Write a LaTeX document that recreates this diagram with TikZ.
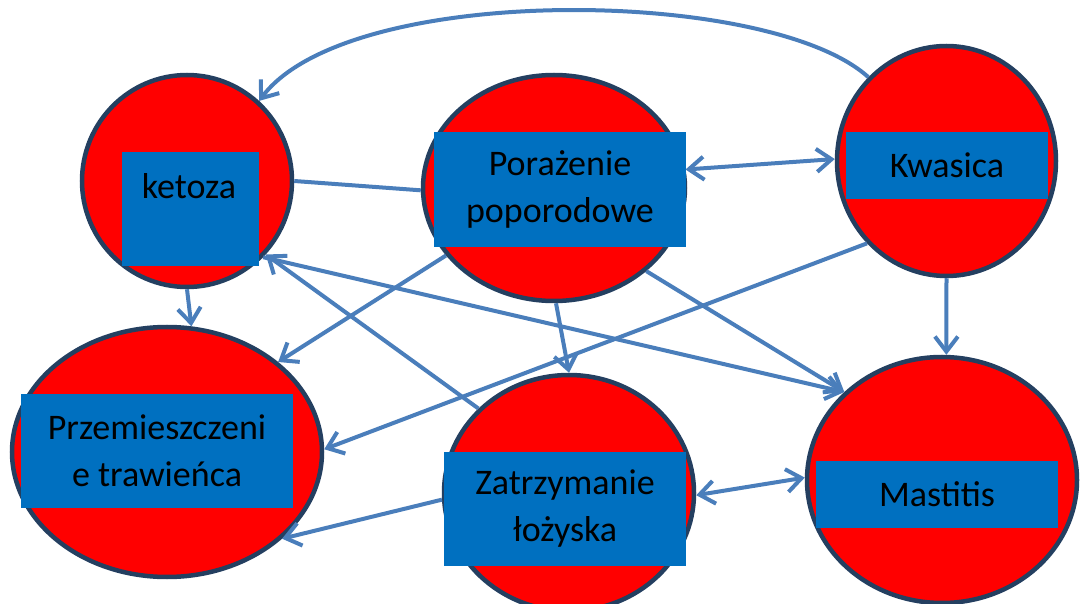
\documentclass[tikz,border=0pt]{standalone}
\usepackage{fontspec}
\setmainfont{Carlito}
\usetikzlibrary{arrows.meta,shapes.geometric}
\definecolor{lineblue}{HTML}{4A7EBB}
\definecolor{circedge}{HTML}{243F60}
\definecolor{boxblue}{HTML}{0070C0}
\begin{document}
\begin{tikzpicture}[x=1pt,y=-1pt,
  blob/.style={ellipse, draw=circedge, line width=4.5pt, fill=red, inner sep=0pt},
  box/.style={rectangle, fill=boxblue, inner sep=0pt, align=center, text=black,
    font=\fontsize{36}{47}\selectfont},
  lbl/.style={inner sep=0pt, text=black, font=\fontsize{36}{47}\selectfont},
  link/.style={draw=lineblue, line width=4pt},
  conn/.style={link, -{Straight Barb[length=15pt,width=23pt]}},
  conntwo/.style={link, {Straight Barb[length=15pt,width=23pt]}-{Straight Barb[length=15pt,width=23pt]}}
]
\clip (0,0) rectangle (1080,604);
% ellipses
\node[blob, minimum width=210pt, minimum height=212pt] (ket) at (187,181) {};
\node[blob, minimum width=262pt, minimum height=226pt] (por) at (554,188) {};
\node[blob, minimum width=219pt, minimum height=230pt] (kwa) at (946.5,161) {};
\node[blob, minimum width=310pt, minimum height=250pt] (prz) at (167,452) {};
\node[blob, minimum width=250pt, minimum height=236pt] (zat) at (569,493) {};
\node[blob, minimum width=270pt, minimum height=246pt] (mas) at (942,480) {};
% boxes
\node[box, minimum width=137pt, minimum height=114pt] (ketbox) at (190.5,209) {};
\node[lbl] (ketlbl) at (189,186) {ketoza};
\node[box, minimum width=252pt, minimum height=115pt] (porbox) at (560,189.5) {Porażenie\\poporodowe};
\node[box, minimum width=202pt, minimum height=67pt] (kwabox) at (947,165.5) {Kwasica};
\node[box, minimum width=272pt, minimum height=114pt] (przbox) at (157,451) {Przemieszczeni\\e trawieńca};
\node[box, minimum width=242pt, minimum height=114pt] (zatbox) at (565,509) {Zatrzymanie\\łożyska};
\node[box, minimum width=242pt, minimum height=67pt] (masbox) at (937,494.5) {Mastitis};
% connectors
\draw[conn] (kwa.133) .. controls (769,-13) and (348,-18) .. (ket.48);
\draw[link] (ket.0) -- (por.181);
\draw[conntwo] (por.8) -- (kwa.179);
\draw[conn] (ket.-90) -- (prz.79);
\draw[conn] (por.212) -- (prz.39);
\draw[conn] (kwa.226) -- (prz.1);
\draw[conn] (ket.-45) -- (mas.138);
\draw[conn] (por.-42) -- (mas.138);
\draw[conn] (por.-89) -- (zat.90);
\draw[conn] (kwa.-90) -- (mas.88);
\draw[conn] (zat.137) -- (ket.-43);
\draw[conn] (zat.183) -- (prz.-37);
\draw[conntwo] (zat.-1) -- (mas.179);
\end{tikzpicture}
\end{document}
